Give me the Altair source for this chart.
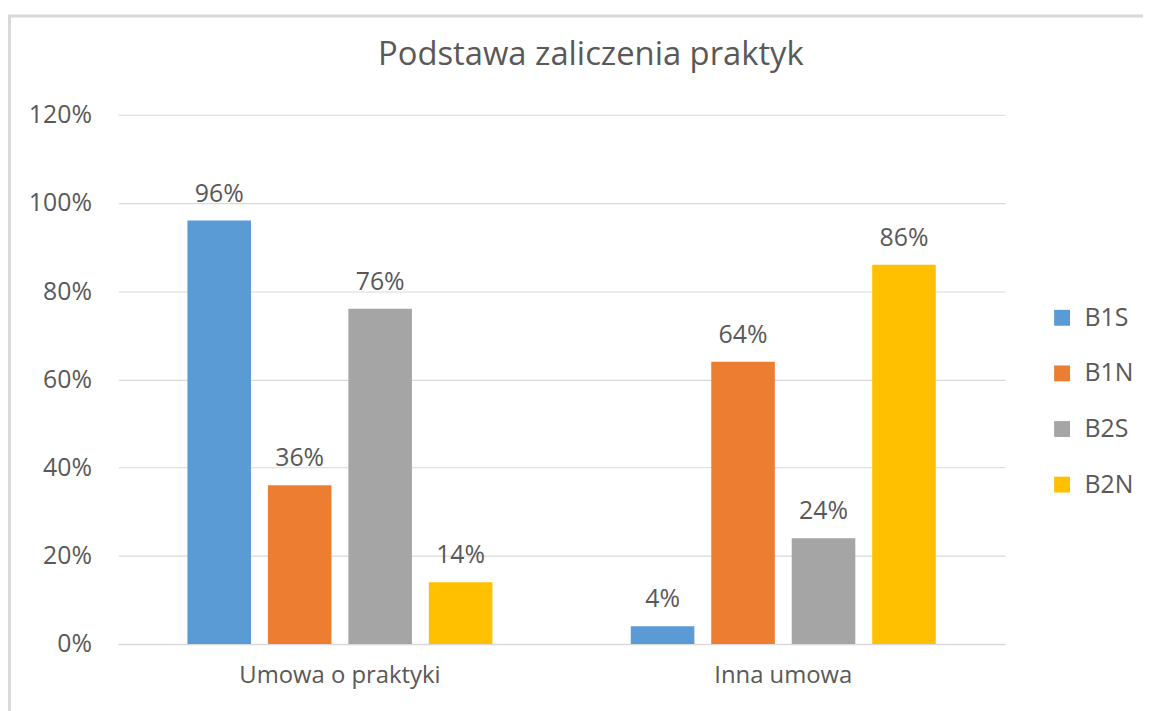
import altair as alt
import pandas as pd

title_text = "Podstawa zaliczenia praktyk"
categories = ["Umowa o praktyki", "Inna umowa"]
series = ["B1S", "B1N", "B2S", "B2N"]
colors = ["#5B9BD5", "#ED7D31", "#A5A5A5", "#FFC000"]
values_umowa = [96, 36, 76, 14]
values_inna = [4, 64, 24, 86]
y_ticks = [0, 20, 40, 60, 80, 100, 120]

rows = []
for cat, vals in zip(categories, [values_umowa, values_inna]):
    for s, v in zip(series, vals):
        rows.append({"kategoria": cat, "seria": s, "wartosc": v})
df = pd.DataFrame(rows)

FONT = "Open Sans"
TXT = "#595959"
GRID = "#D9D9D9"

base = alt.Chart(df).encode(
    x=alt.X("kategoria:N", sort=categories,
            scale=alt.Scale(paddingInner=0, paddingOuter=0),
            axis=alt.Axis(title=None, labelAngle=0, labelFont=FONT, labelFontSize=24,
                          labelColor=TXT, labelPadding=20, labelLimit=0, ticks=False,
                          domainColor=GRID, domainWidth=1.5)),
    xOffset=alt.XOffset("seria:N", sort=series,
                        scale=alt.Scale(paddingInner=0.21, paddingOuter=0.86)),
)

bars = base.mark_bar().encode(
    y=alt.Y("wartosc:Q", scale=alt.Scale(domain=[0, 120], nice=False),
            axis=alt.Axis(title=None, values=y_ticks, labelExpr="datum.value + '%'",
                          labelFont=FONT, labelFontSize=25, labelColor=TXT,
                          labelPadding=27, ticks=False, domain=False,
                          gridColor=GRID, gridWidth=1.2)),
    color=alt.Color("seria:N", sort=series,
                    scale=alt.Scale(domain=series, range=colors),
                    legend=alt.Legend(title=None, orient="none", legendX=938, legendY=192,
                                      symbolType="square", symbolSize=256,
                                      symbolStrokeWidth=0, labelFont=FONT,
                                      labelFontSize=25, labelColor=TXT, labelOffset=10,
                                      rowPadding=30, padding=0)),
)

labels = base.mark_text(font=FONT, fontSize=25, color=TXT, baseline="alphabetic",
                        dy=-19).encode(
    y=alt.Y("wartosc:Q"),
    text=alt.Text("label:N"),
).transform_calculate(label="datum.wartosc + '%'")

deco = pd.DataFrame({"t": [title_text]})

border = alt.Chart(deco).mark_rect(
    fill=None, stroke=GRID, strokeWidth=3, clip=False
).encode(x=alt.value(-109.5), x2=alt.value(1300), y=alt.value(-99.5), y2=alt.value(900))

title = alt.Chart(deco).mark_text(
    font=FONT, fontSize=33, color=TXT, align="center", baseline="alphabetic"
).encode(text="t:N", x=alt.value(476), y=alt.value(-50))

chart = alt.layer(border, title, bars, labels).properties(
    width=893, height=533,
    autosize=alt.AutoSizeParams(type="none"),
    padding={"left": 111, "top": 105, "right": 139, "bottom": 65},
).configure(background="white").configure_view(stroke=None)

chart.save("out.html", embed_options={"renderer": "svg", "actions": False})
